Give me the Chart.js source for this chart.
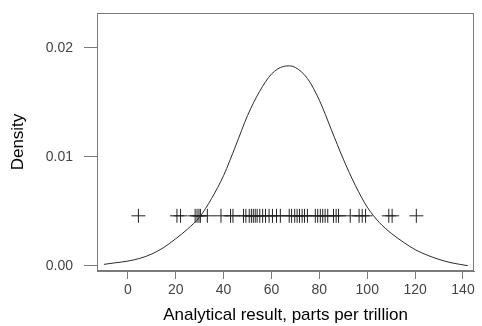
<!DOCTYPE html>
<html>
<head>
<meta charset="utf-8">
<script src="https://cdn.jsdelivr.net/npm/chart.js@4"></script>
<style>
html,body{margin:0;padding:0;background:#fff;}
canvas{display:block;}
</style>
</head>
<body>
<canvas id="c" width="482" height="326"></canvas>
<script>
// Density curve
const curveX = [-10, -5, 0, 5, 10, 15, 20, 25, 30, 35, 40, 45, 50, 55, 60, 65, 67.5, 70, 75, 80, 85, 90, 95, 100, 105, 110, 115, 120, 125, 130, 135, 142];
const curveY = [0.00015, 0.0003, 0.00045, 0.0007, 0.0011, 0.0017, 0.0025, 0.0034, 0.0045, 0.0062, 0.0083, 0.0110, 0.0138, 0.0160, 0.0176, 0.0183, 0.01835, 0.0182, 0.0172, 0.0152, 0.0125, 0.0098, 0.0074, 0.0054, 0.0040, 0.0030, 0.0022, 0.0015, 0.0010, 0.0006, 0.0003, 0.00003];
// Individual analytical results (+ marks)
const results = [4.4, 20.5, 22.0, 28.1, 28.9, 29.7, 30.3, 33.2, 38.9, 42.9, 43.9, 48.3, 49.3, 50.7, 51.6, 52.4, 53.2, 54.0, 55.1, 56.3, 57.5, 59.0, 60.4, 62.1, 63.7, 67.4, 68.4, 69.7, 70.7, 71.7, 72.8, 73.8, 75.0, 78.3, 79.3, 80.4, 81.4, 82.4, 83.5, 85.9, 87.0, 88.0, 92.9, 96.6, 97.9, 99.3, 109.0, 110.4, 120.5];
const resultLevel = 0.0046;
const xTicks = [0, 20, 40, 60, 80, 100, 120, 140];
const yTicks = [0, 0.01, 0.02];
const xTitle = 'Analytical result, parts per trillion';
const yTitle = 'Density';

const frame = {
  id: 'frame',
  afterDatasetsDraw(chart) {
    const a = chart.chartArea, ctx = chart.ctx;
    ctx.save();
    ctx.strokeStyle = '#7a7a7a';
    ctx.lineWidth = 1;
    ctx.strokeRect(Math.round(a.left) + 0.5, Math.round(a.top) + 0.5, Math.round(a.right - a.left) - 1, Math.round(a.bottom - a.top) - 1);
    ctx.restore();
  }
};

function noPad(s) { s.paddingLeft = 0; s.paddingRight = 0; s.paddingTop = 0; s.paddingBottom = 0; }

new Chart(document.getElementById('c'), {
  type: 'scatter',
  data: {
    datasets: [
      {
        type: 'line',
        data: curveX.map((x, i) => ({x: x, y: curveY[i]})),
        borderColor: '#2a2a2a',
        borderWidth: 1,
        pointRadius: 0,
        fill: false,
        cubicInterpolationMode: 'monotone'
      },
      {
        type: 'scatter',
        data: results.map(x => ({x: x, y: resultLevel})),
        pointStyle: 'cross',
        pointRadius: 7,
        borderColor: '#222',
        borderWidth: 1,
        backgroundColor: '#222'
      }
    ]
  },
  options: {
    responsive: false,
    animation: false,
    devicePixelRatio: 1,
    layout: {padding: {top: 13, right: 3, left: 0, bottom: 0}},
    plugins: {legend: {display: false}, tooltip: {enabled: false}},
    scales: {
      x: {
        type: 'linear',
        min: -12.9,
        max: 144.6,
        afterBuildTicks: s => { s.ticks = xTicks.map(v => ({value: v})); },
        afterFit: s => { s.height = 55; noPad(s); },
        grid: {display: true, drawOnChartArea: false, drawTicks: true, tickLength: 8, color: '#7a7a7a'},
        border: {display: true, color: '#7a7a7a'},
        ticks: {color: '#444', font: {family: 'Liberation Sans', size: 14}, padding: 3, maxRotation: 0, autoSkip: false, callback: v => String(v)},
        title: {display: true, text: xTitle, color: '#000', font: {family: 'Liberation Sans', size: 17}, padding: {top: 0, bottom: 0}}
      },
      y: {
        type: 'linear',
        min: -0.00046,
        max: 0.0232,
        afterBuildTicks: s => { s.ticks = yTicks.map(v => ({value: v})); },
        afterFit: s => { s.width = 97; noPad(s); },
        grid: {display: true, drawOnChartArea: false, drawTicks: true, tickLength: 13, color: '#7a7a7a'},
        border: {display: true, color: '#7a7a7a'},
        ticks: {color: '#444', font: {family: 'Liberation Sans', size: 14}, padding: 11, autoSkip: false, callback: v => Number(v).toFixed(2)},
        title: {display: true, text: yTitle, color: '#000', font: {family: 'Liberation Sans', size: 17}, padding: {top: 8, bottom: 0}}
      }
    }
  },
  plugins: [frame]
});
</script>
</body>
</html>
